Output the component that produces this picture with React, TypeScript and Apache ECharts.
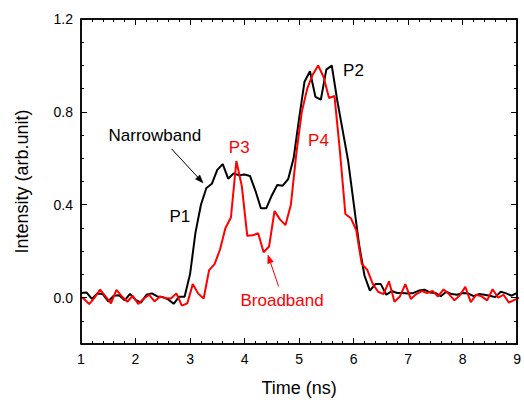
import React, { useEffect, useRef } from "react";
import * as echarts from "echarts";

// Sampling grids (ns)
const BLACK_T0 = 1.0;
const RED_T0 = 0.95;
const STEP = 0.1;

// Narrowband (black) intensity, samples every 0.1 ns from 1.0 ns
const narrowband = [
  0.02, 0.022, -0.006, 0.018, 0.015, -0.017, 0.008, 0.01, -0.012, 0.016,
  -0.01, -0.022, 0.012, 0.018, 0.005, 0.002, -0.008, -0.027, 0.004, 0.004,
  0.1, 0.28, 0.4, 0.472, 0.49, 0.55, 0.575, 0.512, 0.535, 0.527,
  0.53, 0.524, 0.46, 0.385, 0.385, 0.44, 0.485, 0.482, 0.51, 0.6,
  0.77, 0.93, 0.975, 0.865, 0.853, 0.982, 1.0, 0.85, 0.72, 0.59,
  0.41, 0.23, 0.095, 0.03, 0.058, 0.058, 0.012, 0.028, 0.02, 0.02,
  0.018, 0.02, 0.03, 0.034, 0.022, 0.02, 0.006, 0.025, 0.015, 0.012,
  0.02, 0.018, 0.006, 0.015, 0.012, 0.008, 0.002, 0.025, 0.018, 0.008,
  0.02,
];

// Broadband (red) intensity, samples every 0.1 ns from 0.95 ns
const broadband = [
  0.01,
  -0.005, -0.028, 0.0, 0.034, 0.005, -0.025, 0.033, 0.005, -0.018, 0.008,
  -0.028, -0.005, 0.012, -0.016, 0.004, -0.002, -0.004, 0.018, -0.035, -0.025,
  0.058, 0.017, -0.004, 0.118, 0.144, 0.207, 0.3, 0.345, 0.588, 0.48,
  0.266, 0.268, 0.277, 0.195, 0.22, 0.373, 0.337, 0.312, 0.4, 0.62,
  0.8, 0.9, 0.96, 1.0, 0.95, 0.86, 0.868, 0.63, 0.36, 0.342,
  0.29, 0.145, 0.12, 0.06, 0.025, 0.015, 0.07, -0.018, 0.005, 0.058,
  -0.006, 0.015, 0.028, 0.02, 0.028, 0.005, 0.035, 0.015, -0.012, 0.01,
  0.046, -0.02, 0.012, 0.005, -0.012, 0.036, 0.0, 0.012, -0.022, -0.01,
  0.0,
];

// Axis ranges and tick values
const X_MIN = 1;
const X_MAX = 9;
const Y_MIN = -0.2;
const Y_MAX = 1.2;
const yLabelValues = [0, 0.4, 0.8, 1.2];
const xMinorStep = 0.2;
const yMinorStep = 0.1;

const annotations = [
  { text: "Narrowband", t: 2.355, v: 0.698, color: "#000000" },
  { text: "P1", t: 2.812, v: 0.35, color: "#000000" },
  { text: "P3", t: 3.902, v: 0.646, color: "#ff0000" },
  { text: "Broadband", t: 4.689, v: -0.011, color: "#ff0000" },
  { text: "P4", t: 5.357, v: 0.676, color: "#ff0000" },
  { text: "P2", t: 5.998, v: 0.977, color: "#000000" },
];

const arrows = [
  { from: [2.66, 0.641], to: [3.239, 0.494], color: "#000000" },
  { from: [4.625, 0.048], to: [4.429, 0.183], color: "#ff0000" },
];

const FONT = "Liberation Sans, Arial, sans-serif";

// Layout
const W = 524;
const H = 402;
const G_LEFT = 81;
const G_RIGHT = 6;
const G_TOP = 19;
const G_BOTTOM = 57;
const MAJOR_LEN = 6;
const MINOR_LEN = 3;

export default function App() {
  const ref = useRef<HTMLDivElement>(null);

  useEffect(() => {
    if (!ref.current) return;
    const chart = echarts.init(ref.current, undefined, { renderer: "svg" });

    const blackData = narrowband.map((v, i) => [+(BLACK_T0 + STEP * i).toFixed(2), v]);
    const redData = broadband.map((v, i) => [+(RED_T0 + STEP * i).toFixed(2), v]);

    // pixel -> data-unit conversion for tick lengths
    const gw = W - G_LEFT - G_RIGHT;
    const gh = H - G_TOP - G_BOTTOM;
    const xPerPx = (X_MAX - X_MIN) / gw;
    const yPerPx = (Y_MAX - Y_MIN) / gh;

    const tickSegs: any[] = [];
    const nx = Math.round((X_MAX - X_MIN) / xMinorStep);
    for (let k = 0; k <= nx; k++) {
      const v = +(X_MIN + k * xMinorStep).toFixed(3);
      const major = Math.abs(v - Math.round(v)) < 1e-6;
      const len = (major ? MAJOR_LEN : MINOR_LEN) * yPerPx;
      tickSegs.push({ coords: [[v, Y_MIN], [v, Y_MIN + len]] });
      tickSegs.push({ coords: [[v, Y_MAX], [v, Y_MAX - len]] });
    }
    const ny = Math.round((Y_MAX - Y_MIN) / yMinorStep);
    for (let k = 0; k <= ny; k++) {
      const v = +(Y_MIN + k * yMinorStep).toFixed(3);
      const major = yLabelValues.some((m) => Math.abs(m - v) < 1e-6);
      const len = (major ? MAJOR_LEN : MINOR_LEN) * xPerPx;
      tickSegs.push({ coords: [[X_MIN, v], [X_MIN + len, v]] });
      tickSegs.push({ coords: [[X_MAX, v], [X_MAX - len, v]] });
    }

    const hiddenSplit = { show: false };

    chart.setOption({
      animation: false,
      grid: { left: G_LEFT, right: G_RIGHT, top: G_TOP, bottom: G_BOTTOM },
      xAxis: [
        {
          type: "value",
          position: "bottom",
          min: X_MIN,
          max: X_MAX,
          interval: 1,
          name: "Time (ns)",
          nameLocation: "middle",
          nameGap: 35,
          nameTextStyle: { fontSize: 18, color: "#000000", fontFamily: FONT },
          axisLine: { show: true, onZero: false, lineStyle: { color: "#000000", width: 1.5 } },
          axisTick: { show: true, inside: true, length: MAJOR_LEN, lineStyle: { color: "#000000", width: 1 } },
          axisLabel: { show: true, fontSize: 14, color: "#000000", margin: 8, fontFamily: FONT },
          splitLine: hiddenSplit,
        },
        {
          type: "value",
          position: "top",
          min: X_MIN,
          max: X_MAX,
          interval: 1,
          axisLine: { show: true, onZero: false, lineStyle: { color: "#000000", width: 1.5 } },
          axisTick: { show: true, inside: true, length: MAJOR_LEN, lineStyle: { color: "#000000", width: 1 } },
          axisLabel: { show: false },
          splitLine: { show: false },
        },
      ],
      yAxis: [
        {
          type: "value",
          position: "left",
          min: Y_MIN,
          max: Y_MAX,
          interval: 0.1,
          name: "Intensity (arb.unit)",
          nameLocation: "middle",
          nameGap: 50,
          nameTextStyle: { fontSize: 18, color: "#000000", fontFamily: FONT },
          axisLine: { show: true, onZero: false, lineStyle: { color: "#000000", width: 1.5 } },
          axisTick: { show: true, inside: true, length: MINOR_LEN, lineStyle: { color: "#000000", width: 1 } },
          axisLabel: {
            show: true,
            fontSize: 14,
            color: "#000000",
            margin: 8,
            fontFamily: FONT,
            formatter: (v: number) => {
              const r = Math.round(v * 10) / 10;
              return yLabelValues.some((m) => Math.abs(m - r) < 1e-6) ? r.toFixed(1) : "";
            },
          },
          splitLine: { show: false },
        },
        {
          type: "value",
          position: "right",
          min: Y_MIN,
          max: Y_MAX,
          interval: 0.1,
          axisLine: { show: true, onZero: false, lineStyle: { color: "#000000", width: 1.5 } },
          axisTick: { show: true, inside: true, length: MINOR_LEN, lineStyle: { color: "#000000", width: 1 } },
          axisLabel: { show: false },
          splitLine: { show: false },
        },
      ],
      series: [
        {
          type: "line",
          name: "Narrowband",
          data: blackData,
          xAxisIndex: 0,
          yAxisIndex: 0,
          showSymbol: false,
          symbol: "none",
          lineStyle: { color: "#000000", width: 2 },
          clip: true,
          z: 3,
        },
        {
          type: "line",
          name: "Broadband",
          data: redData,
          xAxisIndex: 0,
          yAxisIndex: 0,
          showSymbol: false,
          symbol: "none",
          lineStyle: { color: "#ff0000", width: 2 },
          clip: true,
          z: 4,
        },
        {
          // plot frame
          type: "line",
          name: "frame",
          xAxisIndex: 1,
          yAxisIndex: 1,
          data: [
            [X_MIN, Y_MIN],
            [X_MAX, Y_MIN],
            [X_MAX, Y_MAX],
            [X_MIN, Y_MAX],
            [X_MIN, Y_MIN],
          ],
          showSymbol: false,
          symbol: "none",
          lineStyle: { color: "#000000", width: 1.5 },
          clip: false,
          silent: true,
          z: 5,
        },
        {
          // inward ticks on all four sides
          type: "lines",
          name: "ticks",
          coordinateSystem: "cartesian2d",
          xAxisIndex: 0,
          yAxisIndex: 0,
          polyline: false,
          clip: false,
          silent: true,
          z: 5,
          lineStyle: { color: "#000000", width: 1, opacity: 1 },
          data: tickSegs,
        },
        {
          type: "custom",
          name: "labels",
          xAxisIndex: 0,
          yAxisIndex: 0,
          silent: true,
          clip: false,
          z: 10,
          data: annotations.map((a) => [a.t, a.v]),
          encode: { x: 0, y: 1 },
          renderItem: (params: any, api: any) => {
            const a = annotations[params.dataIndex];
            const p = api.coord([api.value(0), api.value(1)]);
            return {
              type: "text",
              x: p[0],
              y: p[1],
              style: {
                text: a.text,
                fill: a.color,
                fontSize: 17,
                fontFamily: FONT,
                align: "center",
                verticalAlign: "middle",
              },
            };
          },
        },
        {
          type: "custom",
          name: "arrows",
          xAxisIndex: 0,
          yAxisIndex: 0,
          silent: true,
          clip: false,
          z: 10,
          data: arrows.map((a) => [a.from[0], a.from[1], a.to[0], a.to[1]]),
          encode: { x: [0, 2], y: [1, 3] },
          renderItem: (params: any, api: any) => {
            const a = arrows[params.dataIndex];
            const p0 = api.coord([api.value(0), api.value(1)]);
            const p1 = api.coord([api.value(2), api.value(3)]);
            const dx = p1[0] - p0[0];
            const dy = p1[1] - p0[1];
            const len = Math.sqrt(dx * dx + dy * dy);
            const ux = dx / len;
            const uy = dy / len;
            const headL = 8;
            const headW = 3;
            const bx = p1[0] - ux * headL;
            const by = p1[1] - uy * headL;
            return {
              type: "group",
              children: [
                {
                  type: "line",
                  shape: { x1: p0[0], y1: p0[1], x2: bx, y2: by },
                  style: { stroke: a.color, lineWidth: 1 },
                },
                {
                  type: "polygon",
                  shape: {
                    points: [
                      [p1[0], p1[1]],
                      [bx - uy * headW, by + ux * headW],
                      [bx + uy * headW, by - ux * headW],
                    ],
                  },
                  style: { fill: a.color, stroke: a.color, lineWidth: 0.5 },
                },
              ],
            };
          },
        },
      ],
    });

    return () => chart.dispose();
  }, []);

  return (
    <div
      ref={ref}
      style={{ position: "fixed", left: 0, top: 0, width: W, height: H, background: "#fff" }}
    />
  );
}
